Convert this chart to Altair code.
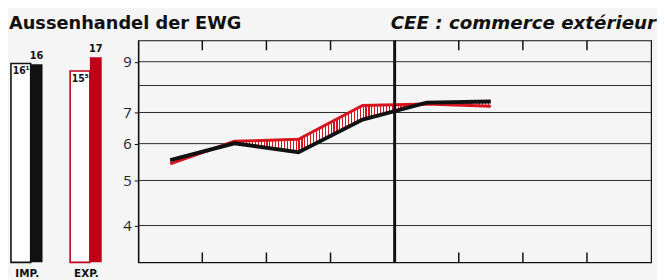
import altair as alt
import pandas as pd

# ---- data ----
years = [1958, 1959, 1960, 1961, 1962, 1963]
imports = [5.53, 6.01, 5.75, 6.76, 7.35, 7.39]
exports = [5.43, 6.07, 6.13, 7.25, 7.30, 7.22]
grid_values = [4, 5, 6, 7, 8, 9]
label_values = [4, 5, 6, 7, 9]
tick_years = [1959, 1960, 1961, 1963, 1964, 1965]
divider_year = [1962]

bar_groups = ["IMP.", "EXP."]
bar_white = [16.1, 15]
bar_fill = [16, 17]
white_text = ["16¹", "15⁵"]
fill_text = ["16", "17"]
bar_floor = -12.71

title_left = "Aussenhandel der EWG"
title_right = "CEE : commerce extérieur"

RED = "#bf001b"
LINE_RED = "#d8141e"
BG = "#f5f5f5"
H = 225

# ---- left bar panel ----
bars = pd.DataFrame({"group": bar_groups, "white": bar_white, "fill": bar_fill,
                     "wt": white_text, "ft": fill_text})
xb = alt.X("group:N", sort=bar_groups,
           scale=alt.Scale(type="point", range=[16, 76], padding=0),
           axis=alt.Axis(title=None, domain=False, ticks=False, labelAngle=0,
                         labelFont="DejaVu Sans", labelFontWeight="bold", labelFontSize=10.5,
                         labelColor="#111", labelPadding=6))
yscale = alt.Scale(domain=[bar_floor, 19.43], nice=False, zero=False)
col = alt.Scale(domain=bar_groups, range=["#111111", RED])

bb = alt.Chart(bars)
white_bars = bb.mark_bar(width=20, xOffset=-6, fill="white", strokeWidth=1.6).encode(
    x=xb, y=alt.Y("white:Q", scale=yscale, axis=None), y2=alt.datum(bar_floor),
    stroke=alt.Stroke("group:N", scale=col, legend=None))
fill_bars = bb.mark_bar(width=12, xOffset=10).encode(
    x=xb, y=alt.Y("fill:Q", scale=yscale, axis=None), y2=alt.datum(bar_floor),
    color=alt.Color("group:N", scale=col, legend=None))
white_lbl = bb.mark_text(align="right", baseline="top", dx=3, dy=3,
                         font="DejaVu Sans Condensed", fontWeight="bold", fontSize=10.5,
                         color="#111").encode(
    x=xb, y=alt.Y("white:Q", scale=yscale, axis=None), text="wt:N")
fill_lbl = bb.mark_text(align="center", baseline="bottom", dy=-3, xOffset=10,
                        font="DejaVu Sans Condensed", fontWeight="bold", fontSize=11,
                        color="#111").encode(
    x=xb, y=alt.Y("fill:Q", scale=yscale, axis=None), text="ft:N")

titles = pd.DataFrame({"t": [title_left]})
t_left = alt.Chart(titles).mark_text(align="left", baseline="alphabetic", font="DejaVu Sans",
                                     fontWeight="bold", fontSize=18, color="#111").encode(
    text="t:N", x=alt.value(-2), y=alt.value(-12))
titles_r = pd.DataFrame({"t": [title_right]})
t_right = alt.Chart(titles_r).mark_text(align="right", baseline="alphabetic", font="DejaVu Sans",
                                        fontWeight="bold", fontStyle="italic", fontSize=18.5,
                                        color="#111").encode(
    text="t:N", x=alt.value(654), y=alt.value(-12))

left = alt.layer(white_bars, fill_bars, white_lbl, fill_lbl, t_left, t_right).properties(
    width=100, height=H, view=alt.ViewBackground(stroke="transparent"))

# ---- main panel ----
df = pd.DataFrame({"year": years, "imp": imports, "exp": exports})
xs = alt.Scale(domain=[1958, 1966], nice=False, zero=False)
ys = alt.Scale(type="log", domain=[10 / 3, 10], nice=False)

base = alt.Chart(df).transform_calculate(mid="datum.year + 0.5")

grid = alt.Chart(pd.DataFrame({"v": grid_values})).mark_rule(color="#2a2a2a", strokeWidth=1).encode(
    y=alt.Y("v:Q", scale=ys,
            axis=alt.Axis(values=label_values, title=None, grid=False, tickSize=4,
                          tickColor="#111", domainColor="#111", domainWidth=1.5,
                          labelFont="Open Sans", labelFontSize=15, labelColor="#222",
                          labelPadding=3)))

stops = []
N = 110
for i in range(N):
    a = i / N
    m = (i + 0.4) / N
    b = (i + 1) / N
    stops += [alt.GradientStop(color=LINE_RED, offset=a), alt.GradientStop(color=LINE_RED, offset=m),
              alt.GradientStop(color="white", offset=m), alt.GradientStop(color="white", offset=b)]
hatch = alt.Gradient(gradient="linear", stops=stops, x1=0, x2=1, y1=0, y2=0)

area = base.mark_area(fill=hatch, opacity=1).encode(
    x=alt.X("mid:Q", scale=xs, axis=None),
    y=alt.Y("exp:Q", scale=ys), y2="imp:Q")
red_line = base.mark_line(color=LINE_RED, strokeWidth=3).encode(
    x=alt.X("mid:Q", scale=xs, axis=None), y=alt.Y("exp:Q", scale=ys))
black_line = base.mark_line(color="#111", strokeWidth=4).encode(
    x=alt.X("mid:Q", scale=xs, axis=None), y=alt.Y("imp:Q", scale=ys))

tk = alt.Chart(pd.DataFrame({"yr": tick_years}))
ticks_top = tk.mark_rule(color="#111", strokeWidth=1.5).encode(
    x=alt.X("yr:Q", scale=xs, axis=None), y=alt.value(0), y2=alt.value(10))
ticks_bot = tk.mark_rule(color="#111", strokeWidth=1.5).encode(
    x=alt.X("yr:Q", scale=xs, axis=None), y=alt.value(H - 10), y2=alt.value(H))
divider = alt.Chart(pd.DataFrame({"yr": divider_year})).mark_rule(color="#111", strokeWidth=3).encode(
    x=alt.X("yr:Q", scale=xs, axis=None))

main = alt.layer(grid, area, red_line, black_line, ticks_top, ticks_bot, divider).properties(
    width=520, height=H)

chart = alt.hconcat(left, main, spacing=29, bounds="flush").resolve_scale(
    x="independent", y="independent"
).properties(
    padding={"top": 3, "left": 0, "right": 0, "bottom": 0}, background=BG
).configure_view(stroke="#111", strokeWidth=1.2)

chart.save("out.html", embed_options={"renderer": "svg", "actions": False})
